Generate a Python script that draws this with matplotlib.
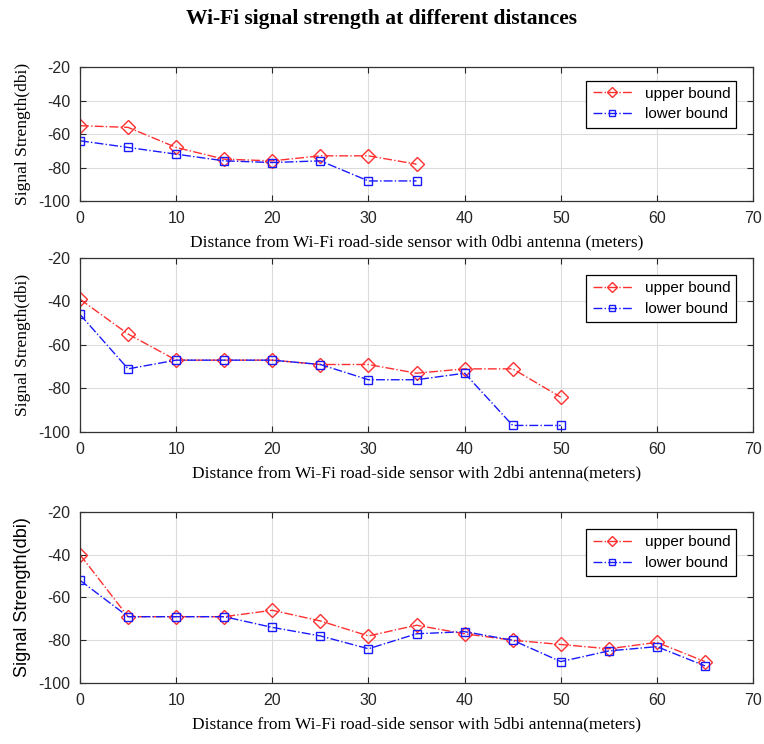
import numpy as np
import matplotlib.pyplot as plt

plt.rcParams['axes.unicode_minus'] = False

# Distances (m)
dist_0dbi = [0, 5, 10, 15, 20, 25, 30, 35]
dist_2dbi = [0, 5, 10, 15, 20, 25, 30, 35, 40, 45, 50]
dist_5dbi = [0, 5, 10, 15, 20, 25, 30, 35, 40, 45, 50, 55, 60, 65]

# Signal strength (dbi)
upper_0dbi = [-55, -56, -68, -75, -76, -73, -73, -78]
lower_0dbi = [-64, -68, -72, -76, -77, -76, -88, -88]
upper_2dbi = [-39, -55, -67, -67, -67, -69, -69, -73, -71, -71, -84]
lower_2dbi = [-46, -71, -67, -67, -67, -69, -76, -76, -73, -97, -97]
upper_5dbi = [-40, -69, -69, -69, -66, -71, -78, -73, -77, -80, -82, -84, -81, -90]
lower_5dbi = [-52, -69, -69, -69, -74, -78, -84, -77, -76, -80, -90, -85, -83, -92]

xlabels = ['Distance from Wi-Fi road-side sensor with 0dbi antenna (meters)',
           'Distance from Wi-Fi road-side sensor with 2dbi antenna(meters)',
           'Distance from Wi-Fi road-side sensor with 5dbi antenna(meters)']

serif = 'Liberation Serif'
sans = 'Liberation Sans'

fig = plt.figure(figsize=(7.64, 7.44), dpi=100)
rects = [[0.1047, 0.7298, 0.881, 0.180],
         [0.1047, 0.4194, 0.881, 0.234],
         [0.1047, 0.0820, 0.881, 0.230]]
panels = [(dist_0dbi, upper_0dbi, lower_0dbi),
          (dist_2dbi, upper_2dbi, lower_2dbi),
          (dist_5dbi, upper_5dbi, lower_5dbi)]

for i, (rect, (d, up, lo)) in enumerate(zip(rects, panels)):
    ax = fig.add_axes(rect)
    ax.plot(d, up, color='#ff3030', ls='-.', lw=1.0, marker='D', ms=7,
            mfc='none', mec='#ff3030', mew=1.0, label='upper bound')
    ax.plot(d, lo, color='#1a1aff', ls='-.', lw=1.0, marker='s', ms=6,
            mfc='none', mec='#1a1aff', mew=1.0, label='lower bound')
    ax.set_xlim(0, 70)
    ax.set_ylim(-100, -20)
    ax.set_xticks(np.arange(0, 71, 10))
    ax.set_yticks(np.arange(-100, -19, 20))
    ax.grid(True, color='#dcdcdc', lw=0.8)
    ax.tick_params(direction='in', length=4, labelsize=11.5, colors='#262626',
                   pad=7, top=True, right=True)
    for lab in ax.get_xticklabels() + ax.get_yticklabels():
        lab.set_family(sans)
    for s in ax.spines.values():
        s.set_color('#333333')
        s.set_linewidth(0.9)
    ax.set_xlabel(xlabels[i], family=serif, fontsize=12.5, labelpad=6)
    if i < 2:
        ax.set_ylabel('Signal Strength(dbi)', family=serif, fontsize=12.5, labelpad=5)
    else:
        ax.set_ylabel('Signal Strength(dbi)', family=sans, fontsize=13, labelpad=5)
    leg = ax.legend(loc='upper right', bbox_to_anchor=(0.975, 0.9), fancybox=False,
                    edgecolor='black', framealpha=1, borderaxespad=0,
                    prop={'family': sans, 'size': 11}, handlelength=2.6,
                    borderpad=0.4, labelspacing=0.45, markerscale=0.8)
    leg.get_frame().set_linewidth(0.9)

fig.suptitle('Wi-Fi signal strength at different distances', y=0.988,
             family=serif, fontweight='bold', fontsize=15.5)

fig.savefig('out.png', dpi=100)
